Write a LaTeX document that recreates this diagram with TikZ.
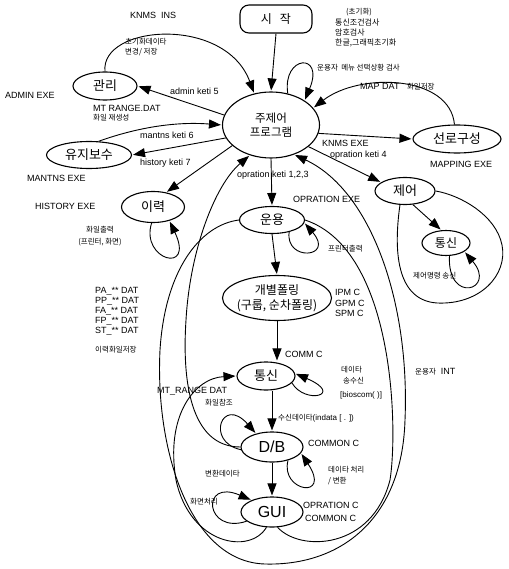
\documentclass[tikz,border=0pt]{standalone}
\usepackage{fontspec}
\setmainfont{Liberation Sans}
\newfontfamily\kr{Noto Sans CJK KR}
\usetikzlibrary{arrows.meta,shapes.geometric}
\tikzset{
 nd/.style={draw, line width=1.1pt, ellipse, inner sep=0pt},
 arr/.style={line width=0.9pt, -{Triangle[length=12pt,width=9pt]}, shorten >=1pt},
 ln/.style={line width=0.9pt},
 lb/.style={font=\fontsize{9}{10}\selectfont, inner sep=0pt, anchor=west},
 kl/.style={font=\kr\fontsize{7.5}{8}\selectfont, inner sep=0pt, anchor=west},
 big/.style={font=\kr\fontsize{13}{15}\selectfont},
}
\begin{document}
\begin{tikzpicture}[x=1pt,y=-1pt]
\useasboundingbox (0,0) rectangle (508,569);
% ---- main nodes ----
\node[draw, line width=1.1pt, rounded corners=9pt, minimum width=72pt, minimum height=28pt, inner sep=0pt, font=\kr\fontsize{12}{14}\selectfont] (start) at (276,19) {시\hspace{8pt}작};
\node[nd, minimum width=97pt, minimum height=66pt, align=center, font=\kr\fontsize{11.5}{14}\selectfont] (main) at (271,125) {주제어\\프로그램};
\node[nd, big, minimum width=64pt, minimum height=28pt] (admin) at (105,86) {관리};
\node[nd, big, minimum width=85pt, minimum height=27pt] (maint) at (89,155) {유지보수};
\node[nd, big, minimum width=63pt, minimum height=31pt] (hist) at (153,207) {이력};
\node[nd, big, minimum width=88pt, minimum height=28pt] (route) at (457,139) {선로구성};
\node[nd, big, minimum width=60pt, minimum height=27pt] (ctrl) at (405,191) {제어};
\node[nd, font=\kr\fontsize{12}{14}\selectfont, minimum width=48pt, minimum height=25pt] (comR) at (446,243) {통신};
\node[nd, big, minimum width=65pt, minimum height=27pt] (oper) at (272,220) {운용};
\node[nd, minimum width=109pt, minimum height=45pt, label={[align=center, font=\kr\fontsize{12}{15}\selectfont]center:개별폴링\\(구룹, 순차폴링)}] (poll) at (277,298) {};
\node[nd, big, minimum width=58pt, minimum height=28pt] (com) at (266,376) {통신};
\node[nd, font=\fontsize{16}{18}\selectfont, minimum width=62pt, minimum height=30pt] (db) at (272,447) {D/B};
\node[nd, font=\fontsize{16}{18}\selectfont, minimum width=62pt, minimum height=30pt] (gui) at (272,512) {GUI};
% ---- labels ----
\node[lb] (l1) at (130,15) {KNMS\ \ INS};
\node[kl] (l2) at (125,42) {초기화데이타};
\node[kl] (l3) at (125,52) {변경/ 저장};
\node[lb] (l4) at (5,95) {ADMIN EXE};
\node[lb] (l5) at (170,91) {admin keti 5};
\node[lb] (l6) at (93,108) {MT RANGE.DAT};
\node[kl] (l7) at (93,118) {화일 재생성};
\node[kl] (l8) at (346,12) {(초기화)};
\node[kl, font=\kr\fontsize{8}{9}\selectfont] (l9) at (335,23) {통신조건검사};
\node[kl, font=\kr\fontsize{8}{9}\selectfont] (l10) at (335,33) {암호검사};
\node[kl, font=\kr\fontsize{8}{9}\selectfont] (l11) at (335,43) {한글,그래픽초기화};
\node[kl] (l12) at (317,68) {운용자\ \ 메뉴\ 선택상황\ 검사};
\node[lb] (l13) at (360,87) {MAP DAT\ \ \ {\kr\fontsize{7.5}{8}\selectfont 화일저장}};
\node[lb] (l14) at (140,135) {mantns keti 6};
\node[lb] (l15) at (140,163) {history keti 7};
\node[lb] (l16) at (27,178) {MANTNS EXE};
\node[lb] (l17) at (35,206) {HISTORY EXE};
\node[lb] (l18) at (322,143) {KNMS EXE};
\node[lb] (l19) at (330,155) {opration keti 4};
\node[lb] (l20) at (430,164) {MAPPING EXE};
\node[kl, anchor=center] (l21) at (100,230) {화일출력};
\node[kl, anchor=center] (l22) at (100,242) {(프린터, 화면)};
\node[lb] (l23) at (237,175) {opration keti 1,2,3};
\node[lb] (l24) at (293,199) {OPRATION EXE};
\node[kl] (l25) at (328,249) {프린터출력};
\node[kl] (l26) at (413,276) {제어명령 송신};
\node[lb, align=left, anchor=north west] (l27) at (95,287) {PA\_** DAT\\PP\_** DAT\\FA\_** DAT\\FP\_** DAT\\ST\_** DAT};
\node[kl] (l28) at (95,350) {이력화일저장};
\node[lb] (l29) at (335,292) {IPM C};
\node[lb] (l30) at (335,303) {GPM C};
\node[lb] (l31) at (335,313) {SPM C};
\node[lb] (l32) at (285,354) {COMM C};
\node[kl] (l33) at (341,370) {데이타};
\node[kl] (l34) at (343,381) {송수신};
\node[lb, font=\fontsize{8}{9}\selectfont] (l35) at (340,395) {[bioscom( )]};
\node[kl] (l36) at (415,372) {운용자\ \ \ {\fontspec{Liberation Sans}\fontsize{9}{10}\selectfont INT}};
\node[lb] (l37) at (157,391) {MT\_RANGE DAT};
\node[kl] (l38) at (205,403) {화일참조};
\node[kl] (l39) at (278,418) {수신데이타{\fontspec{Liberation Sans}\fontsize{8}{9}\selectfont (indata [ . ])}};
\node[lb] (l40) at (308,443) {COMMON C};
\node[kl] (l41) at (328,470) {데이타 처리};
\node[kl] (l42) at (328,481) {/ 변환};
\node[kl] (l43) at (205,474) {변환데이타};
\node[kl] (l44) at (190,502) {화면처리};
\node[lb] (l45) at (303,505) {OPRATION C};
\node[lb] (l46) at (305,518) {COMMON C};
% ---- connectors ----
\draw[arr] (start.south) -- (main.north);
\draw[arr] (admin.north) .. controls (100,25) and (225,15) .. (main.118);
\draw[arr] (main.168) -- (admin.east);
\draw[arr] (maint.55) .. controls (130,130) and (170,121) .. (main.west);
\draw[arr] (main.196) -- (maint.east);
\draw[arr] (main.208) -- (hist.48);
\draw[arr] (main.-10) -- (route.west);
\draw[arr] (route.100) .. controls (450,75) and (360,72) .. (main.22);
\draw[arr] (main.62) .. controls (282,55) and (325,52) .. (main.36);
\draw[arr] (main.south) -- (oper.north);
\draw[arr] (main.-30) -- (ctrl.160);
\draw[arr] (ctrl.-60) -- (comR.110);
\draw[ln] (ctrl.250) .. controls (395,240) and (392,300) .. (437,303) .. controls (480,305) and (508,275) .. (502,245) .. controls (496,215) and (460,195) .. (ctrl.east);
\draw[arr] (comR.285) .. controls (447,305) and (497,290) .. (comR.335);
\draw[arr] (oper.south) -- (poll.north);
\draw[arr] (oper.-35) .. controls (285,262) and (335,258) .. (oper.-5);
\draw[arr] (hist.265) .. controls (140,260) and (195,275) .. (hist.-40);
\draw[arr] (poll.south) -- (com.north -| poll.south);
\draw[arr] (com.south -| db.north) -- (db.north);
\draw[arr] (com.-15) .. controls (305,405) and (345,395) .. (com.5);
\draw[arr] (db.south) -- (gui.north);
\draw[arr] (db.-40) .. controls (280,492) and (332,500) .. (db.-12);
\draw[arr] (db.185) .. controls (205,442) and (222,395) .. (db.140);
\draw[arr] (gui.200) .. controls (205,535) and (200,478) .. (gui.150);
\draw[arr] (gui.250) .. controls (250,555) and (190,545) .. (176,480) .. controls (165,415) and (195,378) .. (com.west);
\draw[ln] (gui.290) .. controls (300,552) and (372,550) .. (390,480) .. controls (398,430) and (395,250) .. (oper.east);
\draw[arr] (db.west) .. controls (190,447) and (182,380) .. (186,320) .. controls (190,250) and (215,185) .. (main.235);
\draw[arr] (oper.west) .. controls (200,225) and (165,270) .. (160,350) .. controls (155,450) and (190,562) .. (265,564) .. controls (340,566) and (402,520) .. (405,420) .. controls (410,300) and (370,190) .. (main.-52);
\end{tikzpicture}
\end{document}
